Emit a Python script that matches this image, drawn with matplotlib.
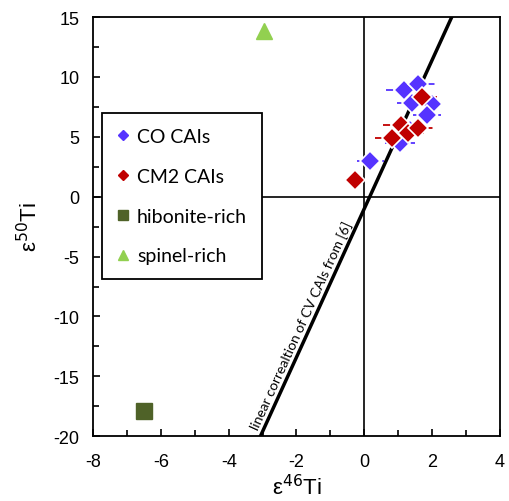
import matplotlib.pyplot as plt
import numpy as np
from matplotlib.lines import Line2D
from matplotlib.ticker import MultipleLocator

# CO CAIs
co_x = [0.18, 1.18, 1.60, 1.42, 2.00, 1.85, 1.05, 1.35]
co_y = [3.0, 8.9, 9.4, 7.85, 7.7, 6.8, 4.5, 5.6]
co_xerr = [0.40, 0.55, 0.50, 0.45, 0.35, 0.40, 0.45, 0.40]

# CM2 CAIs
cm_x = [-0.27, 0.83, 1.09, 1.30, 1.60, 1.70]
cm_y = [1.4, 4.9, 6.0, 5.3, 5.7, 8.3]
cm_xerr = [0.0, 0.50, 0.55, 0.45, 0.55, 0.45]

hib_x, hib_y = [-6.5], [-17.9]
spi_x, spi_y = [-2.95], [13.8]

# CV CAI correlation line
slope, intercept = 6.2, -1.0

BLUE = "#5533FF"
RED = "#C00000"
HIB = "#4F6228"
SPI = "#92D050"

plt.rcParams["font.family"] = ["Liberation Sans", "DejaVu Sans"]

fig = plt.figure(figsize=(5.09, 5.02), dpi=100)
ax = fig.add_axes([0.183, 0.129, 0.799, 0.835])

ax.set_xlim(-8, 4)
ax.set_ylim(-20, 15)

ax.axhline(0, color="black", lw=1.2, zorder=1)
ax.axvline(0, color="black", lw=1.2, zorder=1)

yy = np.array([-20, 15])
ax.plot((yy - intercept) / slope, yy, color="black", lw=2.5, zorder=2)
ax.text(-1.86, -10.7, "linear correaltion of CV CAIs from [6]", rotation=65.5,
        ha="center", va="center", fontsize=10, family=["Lato", "DejaVu Sans"])

for xs, ys, xe, c in [(co_x, co_y, co_xerr, BLUE), (cm_x, cm_y, cm_xerr, RED)]:
    eb = ax.errorbar(xs, ys, xerr=xe, fmt="none", ecolor=c, elinewidth=1.3, zorder=3)
    eb[2][0].set_linestyle((0, (4, 3)))
    ax.plot(xs, ys, "D", color=c, ms=10.5, mec="white", mew=1.2, ls="none", zorder=4)

ax.plot(hib_x, hib_y, "s", color=HIB, ms=11, ls="none", zorder=4)
ax.plot(spi_x, spi_y, "^", color=SPI, ms=11, ls="none", zorder=4)

handles = [
    Line2D([], [], marker="D", color=BLUE, ms=5.5, ls="none", label="CO CAIs"),
    Line2D([], [], marker="D", color=RED, ms=5.5, ls="none", label="CM2 CAIs"),
    Line2D([], [], marker="s", color=HIB, ms=7.5, ls="none", label="hibonite-rich"),
    Line2D([], [], marker="^", color=SPI, ms=7.5, ls="none", label="spinel-rich"),
]

ax.xaxis.set_major_locator(MultipleLocator(2))
ax.xaxis.set_minor_locator(MultipleLocator(1))
ax.yaxis.set_major_locator(MultipleLocator(5))
ax.yaxis.set_minor_locator(MultipleLocator(2.5))
ax.tick_params(which="both", direction="in", top=False, right=False, labelsize=13)
ax.tick_params(which="major", length=5, width=1.2)
ax.tick_params(which="minor", length=4, width=1.2)
ax.tick_params(axis="x", pad=12)
ax.tick_params(axis="y", pad=10)
ax.set_xticklabels([f"{int(v)}" for v in ax.get_xticks()])
ax.set_yticklabels([f"{int(v)}" for v in ax.get_yticks()])
for s in ax.spines.values():
    s.set_linewidth(1.3)

ax.set_xlabel("ε$^{46}$Ti", fontsize=16, labelpad=3)
ax.set_ylabel("ε$^{50}$Ti", fontsize=16, labelpad=8)

leg = ax.legend(handles=handles, loc="upper left", bbox_to_anchor=(0.022, 0.771),
                borderaxespad=0, fancybox=False, edgecolor="black", labelspacing=1.18,
                handlelength=0.6, handletextpad=0.45, borderpad=0.75,
                prop={"family": ["Lato", "DejaVu Sans"], "size": 14})
leg.get_frame().set_linewidth(1.3)
leg.get_frame().set_alpha(1)

fig.savefig("out.png", dpi=100)
